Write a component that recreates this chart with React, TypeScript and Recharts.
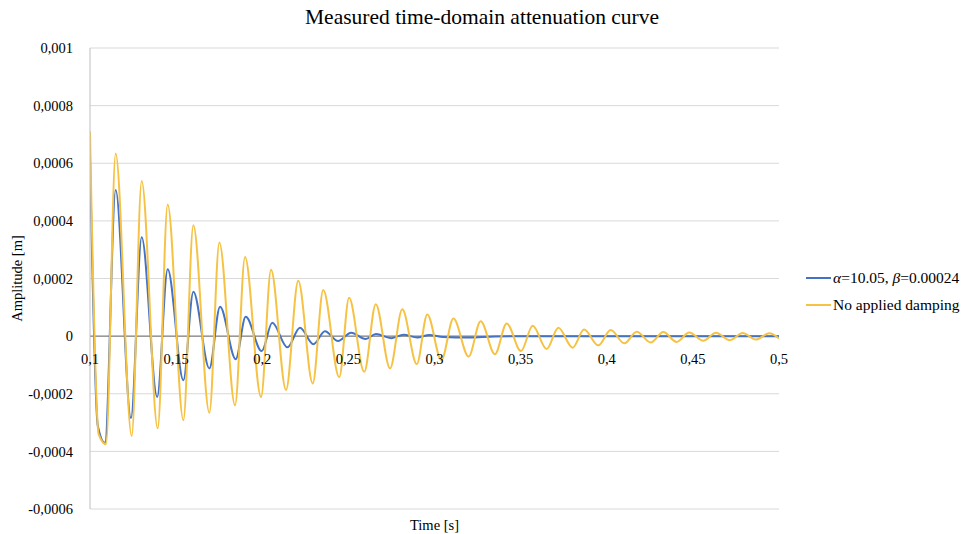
import { LineChart, Line, XAxis, YAxis, CartesianGrid, ReferenceLine, Legend } from 'recharts';

const freeTime = [
  0.1, 0.105, 0.1093, 0.1149, 0.1242, 0.13, 0.1393, 0.1451, 0.1542, 0.16, 0.1693, 0.1751, 0.1842,
  0.19, 0.1993, 0.2051, 0.2138, 0.2209, 0.2293, 0.2354, 0.2447, 0.2504, 0.2592, 0.2659, 0.2742,
  0.2813, 0.2897, 0.2958, 0.304, 0.311, 0.3198, 0.3268, 0.3351, 0.3419, 0.3502, 0.357, 0.3651,
  0.3719, 0.3802, 0.3868, 0.3951, 0.4023, 0.4102, 0.4174, 0.4255, 0.4328, 0.4406, 0.4479, 0.456,
  0.4634, 0.4715, 0.4789, 0.4866, 0.4944, 0.5,
];
const freeAmp = [
  0.00071, -0.00034, -0.000375, 0.000634, -0.000347, 0.000538, -0.00032, 0.000457, -0.000292,
  0.000385, -0.000266, 0.000325, -0.00024, 0.000275, -0.000211, 0.00023, -0.000187, 0.000192,
  -0.000164, 0.00016, -0.000143, 0.000133, -0.000124, 0.000111, -0.000112, 0.000093, -0.000097,
  0.000075, -0.000083, 0.000061, -0.000071, 0.000052, -0.000063, 0.000044, -0.000052, 0.000036,
  -0.000045, 0.000029, -0.00004, 0.000023, -0.000032, 0.000021, -0.000025, 0.000015, -0.000022,
  0.000014, -0.00002, 0.000013, -0.000016, 0.000012, -0.000014, 0.000011, -0.000012, 0.00001,
  -0.000008,
];

const dampedTime = [
  0.1, 0.1045, 0.1087, 0.1149, 0.1238, 0.13, 0.139, 0.1451, 0.1542, 0.16, 0.1693, 0.1755, 0.1846,
  0.1904, 0.1997, 0.2058, 0.2146, 0.2219, 0.2297, 0.2364, 0.244, 0.2516, 0.26, 0.266, 0.275, 0.282,
  0.29, 0.297, 0.305, 0.32, 0.335, 0.36, 0.4, 0.45, 0.5,
];
const dampedAmp = [
  0.00062, -0.00031, -0.00037, 0.000507, -0.000284, 0.000343, -0.000211, 0.000232, -0.000153,
  0.000154, -0.000112, 0.000102, -0.00008, 0.000067, -0.000052, 0.000046, -0.000039, 0.000029,
  -0.000028, 0.000017, -0.000017, 0.000012, -0.00001, 0.000007, -0.000007, 0.000005, -0.000005,
  0.000004, -0.000003, -0.000005, -0.000001, 0, 0, 0, 0,
];

const xTicks = [0.1, 0.15, 0.2, 0.25, 0.3, 0.35, 0.4, 0.45, 0.5];
const yTicks = [-0.0006, -0.0004, -0.0002, 0, 0.0002, 0.0004, 0.0006, 0.0008, 0.001];

const W = 964;
const H = 534;
const TOP = 48;
const BOTTOM = 25;
const Y_MIN = -0.0006;
const Y_MAX = 0.001;
const ZERO_Y = TOP + ((H - TOP - BOTTOM) * Y_MAX) / (Y_MAX - Y_MIN);

const BLUE = '#4472C4';
const GOLD = '#F6C243';
const FONT = '"Liberation Serif", "DejaVu Serif", serif';

const freeData = freeTime.map((t, i) => ({ t, v: freeAmp[i] }));
const dampedData = dampedTime.map((t, i) => ({ t, v: dampedAmp[i] }));

const fmt = (v: number) => parseFloat(v.toPrecision(6)).toString().replace('.', ',');

// x tick labels sit on the zero line, not at the bottom
const XTick = ({ x, payload }: any) => (
  <text x={x} y={ZERO_Y + 28} textAnchor="middle" fontFamily={FONT} fontSize={14.5} fill="#000">
    {fmt(payload.value)}
  </text>
);

const LegendBox = () => (
  <div style={{ fontFamily: FONT, fontSize: 15.5, color: '#000', lineHeight: '27px', whiteSpace: 'nowrap' }}>
    <div style={{ display: 'flex', alignItems: 'center' }}>
      <span style={{ width: 25, height: 2, background: BLUE, marginRight: 2 }} />
      <span>
        <i>α</i>=10.05, <i>β</i>=0.00024
      </span>
    </div>
    <div style={{ display: 'flex', alignItems: 'center' }}>
      <span style={{ width: 25, height: 2, background: GOLD, marginRight: 2 }} />
      <span>No applied damping</span>
    </div>
  </div>
);

export default function App() {
  return (
    <div style={{ position: 'absolute', left: 0, top: 0, width: W, height: H, background: '#fff' }}>
      <div
        style={{
          position: 'absolute',
          top: 5,
          width: W,
          textAlign: 'center',
          fontFamily: FONT,
          fontSize: 21.5,
          color: '#000',
        }}
      >
        Measured time-domain attenuation curve
      </div>
      <LineChart width={W} height={H} margin={{ top: TOP, right: 185, bottom: 0, left: 0 }}>
        <CartesianGrid vertical={false} stroke="#D9D9D9" />
        <XAxis
          dataKey="t"
          type="number"
          domain={[0.1, 0.5]}
          ticks={xTicks}
          allowDataOverflow
          axisLine={false}
          tickLine={false}
          height={BOTTOM}
          tick={<XTick />}
          label={{ value: 'Time [s]', position: 'insideBottom', offset: 4, fontFamily: FONT, fontSize: 14.5, fill: '#000' }}
        />
        <YAxis
          type="number"
          domain={[Y_MIN, Y_MAX]}
          ticks={yTicks}
          width={90}
          tickLine={false}
          tickMargin={11}
          axisLine={{ stroke: '#BFBFBF' }}
          tickFormatter={fmt}
          tick={{ fontFamily: FONT, fontSize: 14.5, fill: '#000' }}
          label={{
            value: 'Amplitude [m]',
            angle: -90,
            position: 'insideLeft',
            offset: 17,
            style: { textAnchor: 'middle' },
            fontFamily: FONT,
            fontSize: 14.5,
            fill: '#000',
          }}
        />
        <ReferenceLine y={0} stroke="#6B6B6B" strokeWidth={1} />
        <Line
          data={dampedData}
          dataKey="v"
          name="damped"
          type="monotone"
          stroke={BLUE}
          strokeWidth={2}
          dot={false}
          isAnimationActive={false}
        />
        <Line
          data={freeData}
          dataKey="v"
          name="free"
          type="monotone"
          stroke={GOLD}
          strokeWidth={2}
          dot={false}
          isAnimationActive={false}
        />
        <Legend
          layout="vertical"
          align="center"
          verticalAlign="middle"
          content={<LegendBox />}
          wrapperStyle={{ left: 806, top: 264, width: 160 }}
        />
      </LineChart>
    </div>
  );
}
